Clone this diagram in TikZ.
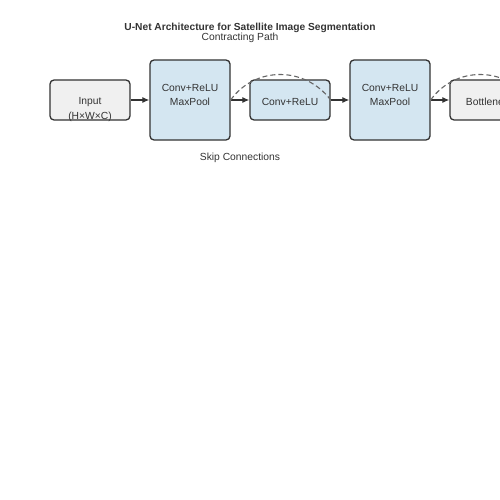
\documentclass[tikz,border=0pt]{standalone}
\usepackage{fontspec}
\setmainfont{Liberation Sans}
\usetikzlibrary{positioning,arrows.meta}

\definecolor{boxline}{HTML}{333333}
\definecolor{convfill}{HTML}{D4E6F1}
\definecolor{plainfill}{HTML}{F0F0F0}
\definecolor{txt}{HTML}{333333}
\definecolor{skipgray}{HTML}{666666}

\begin{document}
\begin{tikzpicture}[x=1pt,y=-1pt,
  stage/.style={draw=boxline, line width=1.3pt, rounded corners=4pt, inner sep=0pt},
  plainbox/.style={stage, fill=plainfill, minimum width=80pt, minimum height=40pt},
  smallconv/.style={stage, fill=convfill, minimum width=80pt, minimum height=40pt},
  bigconv/.style={stage, fill=convfill, minimum width=80pt, minimum height=80pt},
  lbl/.style={text=txt, font=\fontsize{10.3}{12}\selectfont, inner sep=0pt},
  flow/.style={-{Latex[length=7pt,width=6pt]}, draw=boxline, line width=1.2pt},
  skip/.style={draw=skipgray, line width=1.1pt, dash pattern=on 5pt off 3pt}]
\useasboundingbox (0,0) rectangle (500,500);
\clip (0,0) rectangle (500,500);

% titles
\node[inner sep=0pt, text=txt, font=\fontsize{10.2}{12}\selectfont\bfseries] (title) at (250,27.5) {U-Net Architecture for Satellite Image Segmentation};
\node[lbl] (contract) at (240,38) {Contracting Path};

% boxes
\node[plainbox] (input) at (90,100) {};
\node[bigconv] (convA) at (190,100) {};
\node[smallconv] (convB) at (290,100) {};
\node[bigconv] (convC) at (390,100) {};
\node[plainbox] (bottle) at (490,100) {};

% texts in the boxes
\node[lbl] (inputA) at ([yshift=-2pt]input.center) {Input};
\node[lbl] (inputB) at ([yshift=-17pt]input.center) {(H×W×C)};
\node[lbl] (convAa) at ([yshift=12.5pt]convA.center) {Conv+ReLU};
\node[lbl] (convAb) at ([yshift=-2pt]convA.center) {MaxPool};
\node[lbl] (convBa) at ([yshift=-2pt]convB.center) {Conv+ReLU};
\node[lbl] (convCa) at ([yshift=12.5pt]convC.center) {Conv+ReLU};
\node[lbl] (convCb) at ([yshift=-2pt]convC.center) {MaxPool};
\node[lbl] (bottleA) at ([yshift=-2pt]bottle.center) {Bottleneck};

% arrows
\draw[flow] (input.east) -- (convA.west);
\draw[flow] (convA.east) -- (convB.west);
\draw[flow] (convB.east) -- (convC.west);
\draw[flow] (convC.east) -- (bottle.west);

% skip arcs
\draw[skip] (convA.east) .. controls (255,66) and (305,66) .. (convB.east);
\draw[skip] (convC.east) .. controls (455,66) and (505,66) .. (bottle.east);

\node[lbl] (skiptext) at (240,158) {Skip Connections};
\end{tikzpicture}
\end{document}
